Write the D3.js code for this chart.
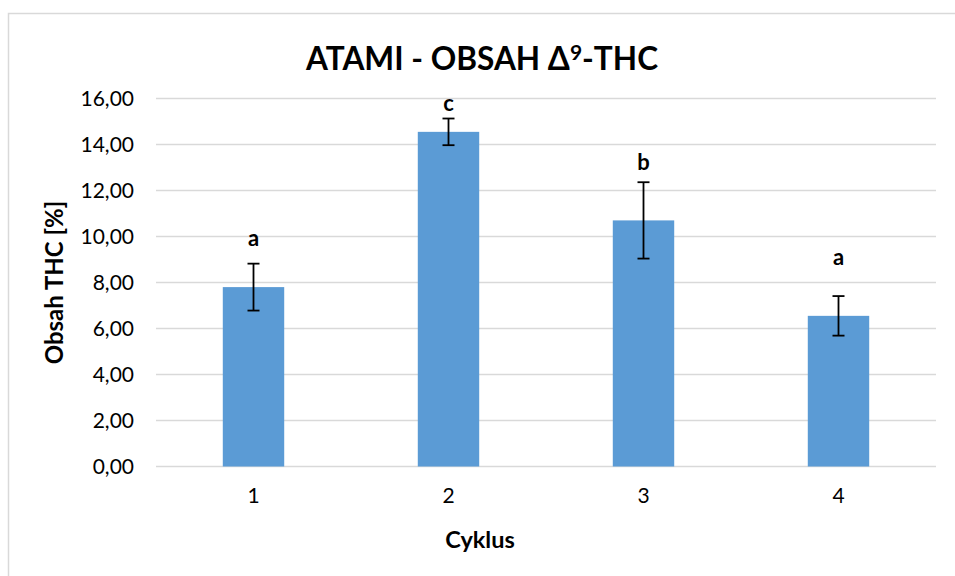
<!DOCTYPE html>
<html>
<head>
<meta charset="utf-8">
<script src="https://cdn.jsdelivr.net/npm/d3@7"></script>
<style>
  body { margin: 0; background: #fff; }
  svg { display: block; font-family: Lato, "Open Sans", sans-serif; }
</style>
</head>
<body>
<div id="chart"></div>
<script>
// data
var categories = ["1", "2", "3", "4"];
var thcValues = [7.80, 14.55, 10.70, 6.55];
var errValues = [1.02, 0.58, 1.66, 0.86];
var groupLetters = ["a", "c", "b", "a"];
var letterValues = [9.59, 15.46, 12.89, 8.76]; // label baseline, in data units
var yTicks = [0, 2, 4, 6, 8, 10, 12, 14, 16];

var width = 955, height = 576;
var margin = { top: 98.5, right: 19, bottom: 109.5, left: 156 };

var svg = d3.select("#chart").append("svg")
  .attr("width", width)
  .attr("height", height);

// chart area border
svg.append("rect")
  .attr("x", 8.5).attr("y", 13.5)
  .attr("width", 960).attr("height", 600)
  .attr("fill", "#fff")
  .attr("stroke", "#d9d9d9")
  .attr("stroke-width", 1.5);

var x = d3.scaleBand()
  .domain(categories)
  .range([margin.left, width - margin.right])
  .padding(0);

var y = d3.scaleLinear()
  .domain([0, 16])
  .range([height - margin.bottom, margin.top]);

var barW = x.bandwidth() * 0.315;

// gridlines
svg.append("g")
  .selectAll("line")
  .data(yTicks)
  .enter()
  .append("line")
  .attr("x1", margin.left)
  .attr("x2", width - margin.right)
  .attr("y1", d => y(d))
  .attr("y2", d => y(d))
  .attr("stroke", "#d9d9d9")
  .attr("stroke-width", 1.3);

// y axis labels
var yAxis = svg.append("g")
  .attr("transform", "translate(" + (margin.left - 22) + ",0)")
  .call(d3.axisLeft(y).tickValues(yTicks).tickSize(0).tickPadding(0)
    .tickFormat(d => d3.format(".2f")(d).replace(".", ",")));
yAxis.select(".domain").remove();
yAxis.selectAll("text")
  .attr("font-size", 21)
  .attr("font-family", "Lato, sans-serif")
  .attr("fill", "#000")
  .attr("dy", "0.35em");

// x axis labels
var xAxis = svg.append("g")
  .attr("transform", "translate(0," + (height - margin.bottom + 22) + ")")
  .call(d3.axisBottom(x).tickSize(0).tickPadding(0));
xAxis.select(".domain").remove();
xAxis.selectAll("text")
  .attr("font-size", 21)
  .attr("font-family", "Lato, sans-serif")
  .attr("fill", "#000")
  .attr("dy", "0.71em");

// bars
svg.append("g")
  .selectAll("rect")
  .data(thcValues)
  .enter()
  .append("rect")
  .attr("x", (d, i) => x(categories[i]) + x.bandwidth() / 2 - barW / 2)
  .attr("y", d => y(d))
  .attr("width", barW)
  .attr("height", d => y(0) - y(d))
  .attr("fill", "#5b9bd5");

// error bars
var err = svg.append("g")
  .attr("stroke", "#000")
  .attr("stroke-width", 1.8);
var capW = 6;
thcValues.forEach(function (v, i) {
  var cx = x(categories[i]) + x.bandwidth() / 2;
  var top = y(v + errValues[i]), bot = y(v - errValues[i]);
  err.append("line").attr("x1", cx).attr("x2", cx).attr("y1", top).attr("y2", bot);
  err.append("line").attr("x1", cx - capW).attr("x2", cx + capW).attr("y1", top).attr("y2", top);
  err.append("line").attr("x1", cx - capW).attr("x2", cx + capW).attr("y1", bot).attr("y2", bot);
});

// group letters
svg.append("g")
  .selectAll("text")
  .data(groupLetters)
  .enter()
  .append("text")
  .attr("x", (d, i) => x(categories[i]) + x.bandwidth() / 2)
  .attr("y", (d, i) => y(letterValues[i]))
  .attr("text-anchor", "middle")
  .attr("font-size", 22)
  .attr("font-weight", "bold")
  .text(d => d);

// title
var title = svg.append("text")
  .attr("x", 482)
  .attr("y", 70)
  .attr("text-anchor", "middle")
  .attr("font-size", 31.6)
  .attr("font-weight", "bold");
title.append("tspan").text("ATAMI - OBSAH Δ");
title.append("tspan").attr("font-size", 21).attr("dy", -10).text("9");
title.append("tspan").attr("dy", 10).text("-THC");

// axis titles
svg.append("text")
  .attr("transform", "translate(63," + (y(8)) + ") rotate(-90)")
  .attr("text-anchor", "middle")
  .attr("font-size", 24)
  .attr("font-weight", "bold")
  .text("Obsah THC [%]");

svg.append("text")
  .attr("x", 480)
  .attr("y", 548)
  .attr("text-anchor", "middle")
  .attr("font-size", 23.5)
  .attr("font-weight", "bold")
  .text("Cyklus");
</script>
</body>
</html>
